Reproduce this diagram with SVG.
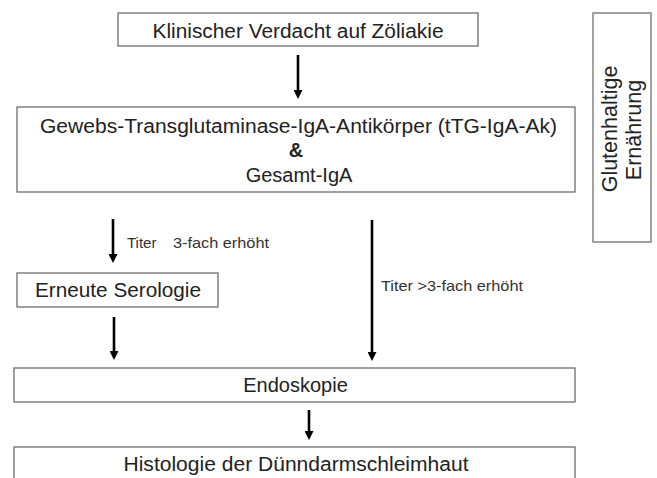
<svg xmlns="http://www.w3.org/2000/svg" width="657" height="478" viewBox="0 0 657 478">
<style>
.box{fill:#fff;stroke:#6e6e6e;stroke-width:1.3}
.side{fill:#fff;stroke:#8a8a8a;stroke-width:1.6}
.t{font-family:"Liberation Sans",Arial,sans-serif;font-size:20px;fill:#222;text-anchor:middle}
.lbl{font-family:"Liberation Sans",Arial,sans-serif;font-size:15px;fill:#333}
.arr{stroke:#000;stroke-width:2.6;fill:none;marker-end:url(#ah)}
</style>
<defs>
<marker id="ah" viewBox="0 0 10 10" refX="1" refY="5" markerWidth="10" markerHeight="9" markerUnits="userSpaceOnUse" orient="auto">
<path d="M0,0 L10,5 L0,10 Z" fill="#000"/>
</marker>
</defs>
<rect width="657" height="478" fill="#fff"/>
<g id="connectors">
<line class="arr" x1="298" y1="55" x2="298" y2="91"/>
<line class="arr" x1="113" y1="219" x2="113" y2="255"/>
<line class="arr" x1="114" y1="317" x2="114" y2="352"/>
<line class="arr" x1="372" y1="220" x2="372" y2="353"/>
<line class="arr" x1="309" y1="410" x2="309" y2="432"/>
<text class="lbl" x="127" y="248">Titer</text>
<text class="lbl" x="173" y="248" textLength="96" lengthAdjust="spacingAndGlyphs">3-fach erhöht</text>
<text class="lbl" x="381" y="291" textLength="142" lengthAdjust="spacingAndGlyphs">Titer &gt;3-fach erhöht</text>
</g>
<g id="n1">
<rect class="box" x="118" y="13" width="360" height="33"/>
<text class="t" x="298" y="38" textLength="291" lengthAdjust="spacingAndGlyphs">Klinischer Verdacht auf Zöliakie</text>
</g>
<g id="n2">
<rect class="box" x="17" y="107" width="558" height="85"/>
<text class="t" x="298.5" y="133" textLength="517" lengthAdjust="spacingAndGlyphs">Gewebs-Transglutaminase-IgA-Antikörper (tTG-IgA-Ak)</text>
<text class="t" x="296" y="157" font-weight="bold">&amp;</text>
<text class="t" x="299" y="182">Gesamt-IgA</text>
</g>
<g id="n3">
<rect class="side" x="593" y="13" width="58" height="229"/>
<text class="t" style="font-size:21.5px" transform="translate(617,129) rotate(-90)">Glutenhaltige</text>
<text class="t" style="font-size:21.5px" transform="translate(641,130) rotate(-90)">Ernährung</text>
</g>
<g id="n4">
<rect class="box" x="17" y="273" width="201" height="34"/>
<text class="t" x="118" y="297" textLength="166" lengthAdjust="spacingAndGlyphs">Erneute Serologie</text>
</g>
<g id="n5">
<rect class="box" x="14" y="368" width="561" height="34"/>
<text class="t" x="295.5" y="392">Endoskopie</text>
</g>
<g id="n6">
<rect class="box" x="14" y="447" width="561" height="45"/>
<text class="t" x="296" y="471" textLength="345" lengthAdjust="spacingAndGlyphs">Histologie der Dünndarmschleimhaut</text>
</g>
</svg>
